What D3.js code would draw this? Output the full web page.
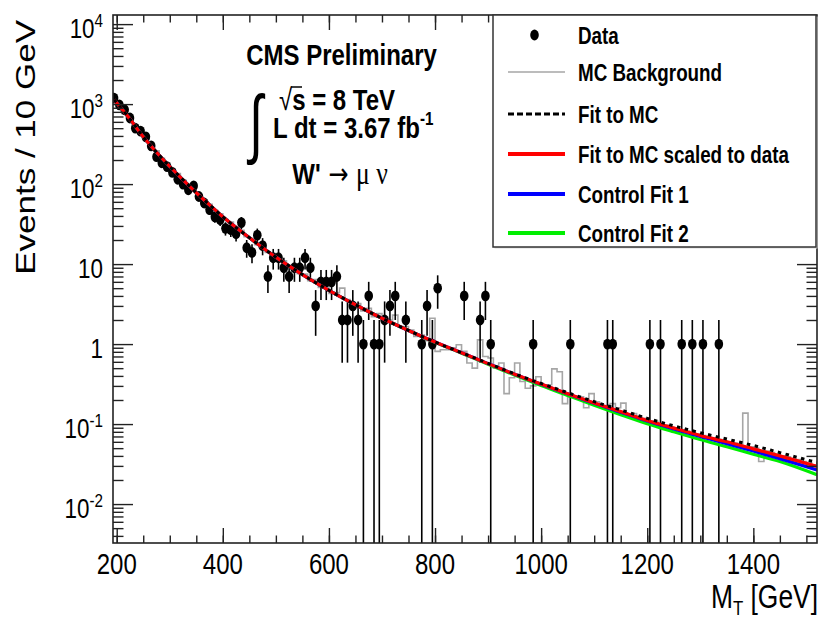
<!DOCTYPE html>
<html>
<head>
<meta charset="utf-8">
<script src="https://cdn.jsdelivr.net/npm/d3@7/dist/d3.min.js"></script>
<style>
  body { margin: 0; background: #fff; }
  text { font-family: "Liberation Sans", Arial, Helvetica, sans-serif; fill: #000; }
</style>
</head>
<body>
<svg id="chart" width="823" height="620"></svg>
<script>
// ---- data: observed events per 10 GeV bin (bin centres in GeV) ----
const dataMass = [195,205,215,225,235,245,255,265,275,285,295,305,315,325,335,345,355,365,375,385,
  395,405,415,425,435,445,455,465,475,485,495,505,515,525,535,545,555,565,575,585,595,605,615,
  625,635,645,655,665,675,685,695,705,715,725,745,775,785,795,805,855,885,895,905,985,1055,
  1125,1135,1205,1225,1265,1285,1305,1335];
const dataEvents = [1190,980,850,670,500,460,390,300,220,185,165,140,115,100,85,95,70,58,48,39,
  36,28,27,24,33,16,14,23,17,7,12,12,9,7,9,9,12,9,3,6,6,6,7,
  2,2,3,2,1,4,1,1,2,3,4,2,1,3,1,5,4,2,4,1,1,1,
  1,1,1,1,1,1,1,1];

// ---- MC background histogram, 10 GeV bins starting at 190 GeV ----
const mcFirstEdge = 190, mcBinWidth = 10;
const mcBackground = [1150,950,760,640,530,420,365,295,260,210,185,150,135,112,99,82,74,62,56,47,
  42.5,36,33.5,28,26.5,22,21,17.5,16.8,14,13.5,11.2,11,9.2,9.0,7.6,7.5,6.2,6.4,5.1,
  5.2,4.3,4.4,5.0,3.6,3.0,3.2,2.6,2.8,2.2,2.4,1.9,2.0,2.3,1.66,1.66,1.5,1.25,1.3,1.1,
  2.1,0.81,0.85,0.85,0.9,0.98,0.81,0.58,0.5,1.13,0.70,0.67,0.5,0.58,0.24,0.38,0.58,0.34,0.28,0.30,
  0.39,0.31,0.31,0.49,0.45,0.18,0.22,0.22,0.22,0.16,0.24,0.19,0.17,0.17,0.18,0.16,0.183,0.13,0.135,0.125,
  0.118,0.11,0.108,0.10,0.097,0.092,0.088,0.085,0.082,0.078,0.075,0.072,0.069,0.067,0.064,0.062,0.06,0.058,0.056,0.137,
  0.052,0.05,0.034,0.046,0.044,0.042,0.040,0.039,0.037,0.036,0.034,0.033,0.031];

// ---- fitted shapes, sampled in M_T ----
const fitMass       = [195,225,250,275,300,325,350,375,400,450,500,550,600,650,700,750,800,850,900,950,1000,1050,1100,1150,1200,1250,1300,1350,1400,1450,1520];
const fitScaled     = [1135,650,390,250,166,113,78,55,39,21.4,12.2,7.4,4.7,3.1,2.1,1.48,1.06,0.78,0.57,0.42,0.316,0.24,0.184,0.143,0.111,0.089,0.072,0.060,0.049,0.040,0.0295];
const fitToMC       = [1135,650,390,250,166,113,78,55,39,21.4,12.2,7.4,4.7,3.1,2.1,1.48,1.06,0.78,0.575,0.425,0.322,0.247,0.191,0.150,0.118,0.095,0.078,0.065,0.054,0.044,0.033];
const controlFit1   = [1135,650,390,250,166,113,78,55,39,21.4,12.2,7.4,4.7,3.1,2.1,1.48,1.06,0.78,0.57,0.42,0.315,0.239,0.182,0.141,0.109,0.087,0.070,0.057,0.046,0.037,0.0267];
const controlFit2   = [1135,650,390,250,166,113,78,55,39,21.4,12.2,7.4,4.7,3.1,2.1,1.48,1.05,0.77,0.56,0.41,0.303,0.228,0.172,0.131,0.101,0.080,0.064,0.052,0.042,0.034,0.0232];

// ---- axis ticks ----
const xMajorTicks = [200,400,600,800,1000,1200,1400];
const xMinorTicks = [200,250,300,350,400,450,500,550,600,650,700,750,800,850,900,950,1000,1050,1100,1150,1200,1250,1300,1350,1400,1450,1500];
const yMajorTicks = [1e4,1e3,1e2,10,1,0.1,0.01];
const yTickLabels = [["10","4"],["10","3"],["10","2"],["10",""],["1",""],["10","-1"],["10","-2"]];

const legendLabels = ["Data","MC Background","Fit to MC","Fit to MC scaled to data","Control Fit 1","Control Fit 2"];

// ---- layout ----
const frame = {l: 113, r: 817, t: 15, b: 543};
const SQ = 0.8;   // horizontal glyph compression of the typeface

const svg = d3.select("#chart");
svg.append("rect").attr("width", 823).attr("height", 620).attr("fill", "#fff");

const x = d3.scaleLinear().domain([193, 1520]).range([frame.l, frame.r]);
const y = d3.scaleLog().domain([3.26e-3, 1.3e4]).range([frame.b, frame.t]);

svg.append("defs").append("clipPath").attr("id", "plotClip")
  .append("rect").attr("x", frame.l).attr("y", frame.t)
  .attr("width", frame.r - frame.l).attr("height", frame.b - frame.t);

const plot = svg.append("g").attr("clip-path", "url(#plotClip)");

// MC background as a step histogram
const mcEdges = mcBackground.map((v, i) => mcFirstEdge + i * mcBinWidth);
const mcPoints = mcEdges.map((e, i) => [e, mcBackground[i]]);
mcPoints.push([mcFirstEdge + mcBackground.length * mcBinWidth, mcBackground[mcBackground.length - 1]]);
plot.append("path")
  .attr("d", d3.line().x(d => x(d[0])).y(d => y(d[1])).curve(d3.curveStepAfter)(mcPoints))
  .attr("fill", "none").attr("stroke", "#a6a6a6").attr("stroke-width", 1.6);

// data with sqrt(N) error bars
const dataG = plot.append("g");
dataMass.forEach((m, i) => {
  const n = dataEvents[i];
  const err = Math.sqrt(n);
  const lo = n - err;
  const yLo = lo > 0 ? y(lo) : frame.b + 2;
  dataG.append("line")
    .attr("x1", x(m)).attr("x2", x(m))
    .attr("y1", y(n + err)).attr("y2", yLo)
    .attr("stroke", "#000").attr("stroke-width", 1.6);
  dataG.append("ellipse")
    .attr("cx", x(m)).attr("cy", y(n)).attr("rx", 4.3).attr("ry", 5.4).attr("fill", "#000");
});

// fits
const fitLine = d3.line().x((d, i) => x(fitMass[i])).y(d => y(d)).curve(d3.curveMonotoneX);
plot.append("path").attr("d", fitLine(controlFit2)).attr("fill", "none").attr("stroke", "#00ee00").attr("stroke-width", 3.2);
plot.append("path").attr("d", fitLine(controlFit1)).attr("fill", "none").attr("stroke", "#0000ff").attr("stroke-width", 3.2);
plot.append("path").attr("d", fitLine(fitScaled)).attr("fill", "none").attr("stroke", "#ff0000").attr("stroke-width", 3.2);
plot.append("path").attr("d", fitLine(fitToMC)).attr("fill", "none").attr("stroke", "#000")
  .attr("stroke-width", 3).attr("stroke-dasharray", "3.5,4.5");

// ---- axes (ticks pointing inward on all four sides) ----
function styleAxis(g) {
  g.select(".domain").remove();
  g.selectAll("line").attr("stroke", "#222").attr("stroke-width", 1.4);
  g.selectAll("text").remove();
}
svg.append("g").attr("transform", `translate(0,${frame.b})`)
  .call(d3.axisBottom(x).tickValues(xMinorTicks).tickSize(-7.5)).call(styleAxis);
svg.append("g").attr("transform", `translate(0,${frame.b})`)
  .call(d3.axisBottom(x).tickValues(xMajorTicks).tickSize(-15)).call(styleAxis);
svg.append("g").attr("transform", `translate(0,${frame.t})`)
  .call(d3.axisTop(x).tickValues(xMinorTicks).tickSize(-7.5)).call(styleAxis);
svg.append("g").attr("transform", `translate(0,${frame.t})`)
  .call(d3.axisTop(x).tickValues(xMajorTicks).tickSize(-15)).call(styleAxis);

const yMinorTicks = [];
[-3,-2,-1,0,1,2,3,4].forEach(p => { for (let k = 2; k <= 9; k++) { const v = k * Math.pow(10, p); if (v > 3.26e-3 && v < 1.3e4) yMinorTicks.push(v); } });
svg.append("g").attr("transform", `translate(${frame.l},0)`)
  .call(d3.axisLeft(y).tickValues(yMinorTicks).tickSize(-10.5)).call(styleAxis);
svg.append("g").attr("transform", `translate(${frame.l},0)`)
  .call(d3.axisLeft(y).tickValues(yMajorTicks).tickSize(-20)).call(styleAxis);
svg.append("g").attr("transform", `translate(${frame.r},0)`)
  .call(d3.axisRight(y).tickValues(yMinorTicks).tickSize(-10.5)).call(styleAxis);
svg.append("g").attr("transform", `translate(${frame.r},0)`)
  .call(d3.axisRight(y).tickValues(yMajorTicks).tickSize(-20)).call(styleAxis);

svg.append("rect").attr("x", frame.l).attr("y", frame.t)
  .attr("width", frame.r - frame.l).attr("height", frame.b - frame.t)
  .attr("fill", "none").attr("stroke", "#222").attr("stroke-width", 1.6);

// squeezed text helper
function sqText(px, py, anchor, opts = {}) {
  const g = svg.append("g").attr("transform", `translate(${px},${py}) scale(${opts.sq || SQ},1)` + (opts.rotate ? ` rotate(${opts.rotate})` : ""));
  return g.append("text").attr("text-anchor", anchor)
    .attr("font-size", opts.size || 28)
    .attr("font-weight", opts.bold ? "bold" : "normal");
}

// x tick labels
xMajorTicks.forEach(v => sqText(x(v), 574, "middle", {size: 30}).text(v));

// y tick labels
yMajorTicks.forEach((v, i) => {
  const t = sqText(103, y(v) + 13.5, "end", {size: 28});
  t.append("tspan").text(yTickLabels[i][0]);
  if (yTickLabels[i][1]) t.append("tspan").attr("dy", -11).attr("font-size", 19).text(yTickLabels[i][1]);
});

// axis titles
const xt = sqText(818, 608, "end", {size: 33});
xt.append("tspan").text("M");
xt.append("tspan").attr("font-size", 21).attr("dy", 7).text("T");
xt.append("tspan").attr("dy", -7).text(" [GeV]");

sqText(35, 20, "end", {size: 35, rotate: -90}).text("Events / 10 GeV");

// ---- labels inside the frame ----
sqText(341.5, 65, "middle", {size: 30, bold: true}).text("CMS Preliminary");
sqText(256, 149, "middle", {size: 76, sq: 0.65}).attr("font-family", "Liberation Serif").text("∫");
svg.append("line").attr("x1", 291).attr("x2", 302).attr("y1", 87).attr("y2", 87).attr("stroke", "#000").attr("stroke-width", 1.5);
// two stacked lines under the integral sign
const lumi = sqText(279, 110, "start", {size: 30});
lumi.append("tspan").text("√");
lumi.append("tspan").attr("font-weight", "bold").text("s = 8 TeV");
lumi.append("tspan").attr("x", -7.5).attr("dy", 28).attr("font-weight", "bold").text("L dt = 3.67 fb");
lumi.append("tspan").attr("dy", -13).attr("font-size", 19).attr("font-weight", "bold").text("-1");
const proc = sqText(340, 184, "middle", {size: 30});
proc.append("tspan").attr("font-weight", "bold").text("W'");
proc.append("tspan").attr("font-family", "DejaVu Sans").attr("font-size", 30).text(" \u2192 ");
proc.append("tspan").attr("font-family", "Liberation Serif").attr("font-size", 32).text("\u03bc \u03bd");

// ---- legend ----
const leg = {l: 493, t: 15, r: 816, b: 247};
svg.append("rect").attr("x", leg.l + 1.5).attr("y", leg.t + 1.5).attr("width", leg.r - leg.l).attr("height", leg.b - leg.t)
  .attr("fill", "#dcdcdc");
svg.append("rect").attr("x", leg.l).attr("y", leg.t).attr("width", leg.r - leg.l).attr("height", leg.b - leg.t)
  .attr("fill", "#fff").attr("stroke", "#333").attr("stroke-width", 1.5);
const rowY = [35, 72, 114, 154, 194, 233];
const symX0 = 508, symX1 = 565;
svg.append("ellipse").attr("cx", (symX0 + symX1) / 2 - 2).attr("cy", rowY[0]).attr("rx", 4.3).attr("ry", 5.4).attr("fill", "#000");
svg.append("line").attr("x1", symX0).attr("x2", symX1).attr("y1", rowY[1]).attr("y2", rowY[1]).attr("stroke", "#a6a6a6").attr("stroke-width", 1.5);
svg.append("line").attr("x1", symX0).attr("x2", symX1).attr("y1", rowY[2]).attr("y2", rowY[2]).attr("stroke", "#000").attr("stroke-width", 3.2).attr("stroke-dasharray", "6,3");
[["#ff0000", 3], ["#0000ff", 4], ["#00ee00", 5]].forEach(([c, r]) =>
  svg.append("line").attr("x1", symX0).attr("x2", symX1).attr("y1", rowY[r]).attr("y2", rowY[r]).attr("stroke", c).attr("stroke-width", 4));
legendLabels.forEach((lab, i) => sqText(578, rowY[i] + 8.5, "start", {size: 23.5, bold: true}).text(lab));
</script>
</body>
</html>
